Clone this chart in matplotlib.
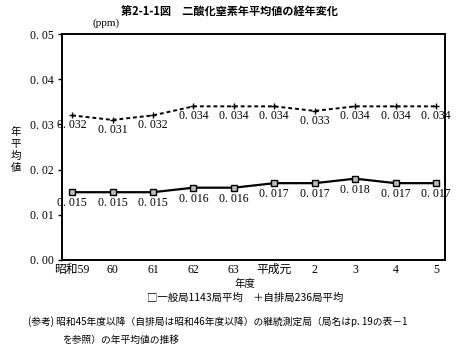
import matplotlib.pyplot as plt

plt.rcParams['font.family'] = ['Noto Sans CJK JP', 'DejaVu Sans']
SERIF = ['Liberation Serif', 'Noto Sans CJK JP']

years = ['昭和59', '60', '61', '62', '63', '平成元', '2', '3', '4', '5']
general = [0.015, 0.015, 0.015, 0.016, 0.016, 0.017, 0.017, 0.018, 0.017, 0.017]
roadside = [0.032, 0.031, 0.032, 0.034, 0.034, 0.034, 0.033, 0.034, 0.034, 0.034]
yticks = [0.0, 0.01, 0.02, 0.03, 0.04, 0.05]


def fmt(v, nd):
    # reference writes "0. 032" with a space after the point
    s = f"{v:.{nd}f}"
    return s.replace('.', '. ')


fig = plt.figure(figsize=(4.59, 3.53), dpi=100)
ax = fig.add_axes([0.135, 0.2635, 0.8344, 0.640])

x = list(range(len(years)))
ax.plot(x, general, color='black', lw=1.6, marker='s', ms=5,
        mfc='#bbbbbb', mec='black', mew=1)
ax.plot(x, roadside, color='black', lw=1.4, ls=(0, (2, 1.5)), marker='+',
        ms=5, mew=1)

for i in x:
    ax.annotate(fmt(general[i], 3), (i, general[i]), xytext=(0, -11),
                textcoords='offset pixels', ha='center', va='center',
                fontsize=8.5, family=SERIF)
    ax.annotate(fmt(roadside[i], 3), (i, roadside[i]), xytext=(0, -10),
                textcoords='offset pixels', ha='center', va='center',
                fontsize=8.5, family=SERIF)

ax.set_xlim(-0.25, 9.22)
ax.set_ylim(0, 0.05)
ax.set_xticks(x)
ax.set_xticklabels(years, fontsize=8.5, family=SERIF)
ax.set_yticks(yticks)
ax.set_yticklabels([fmt(v, 2) for v in yticks], fontsize=8.5, family=SERIF)
ax.tick_params(axis='x', length=0, pad=3)
ax.tick_params(axis='y', length=3, width=1, pad=3)
for s in ax.spines.values():
    s.set_linewidth(1.4)

fig.text(0.5, 0.965, '第2-1-1図　二酸化窒素年平均値の経年変化', ha='center',
         va='center', fontsize=8, fontweight='bold')
fig.text(0.23, 0.935, '(ppm)', ha='center', va='center', fontsize=8,
         family=SERIF)
fig.text(0.035, 0.575, '年\n平\n均\n値', ha='center', va='center',
         fontsize=7.5, linespacing=1.25)
fig.text(0.534, 0.195, '年度', ha='center', va='center', fontsize=7.5)
fig.text(0.534, 0.156, '□一般局1143局平均　＋自排局236局平均', ha='center',
         va='center', fontsize=7.5)
fig.text(0.06, 0.088, '(参考) 昭和45年度以降（自排局は昭和46年度以降）の継続測定局（局名はp. 19の表－1',
         ha='left', va='center', fontsize=7)
fig.text(0.135, 0.037, 'を参照）の年平均値の推移', ha='left', va='center',
         fontsize=7)

fig.savefig('out.png', dpi=100)
